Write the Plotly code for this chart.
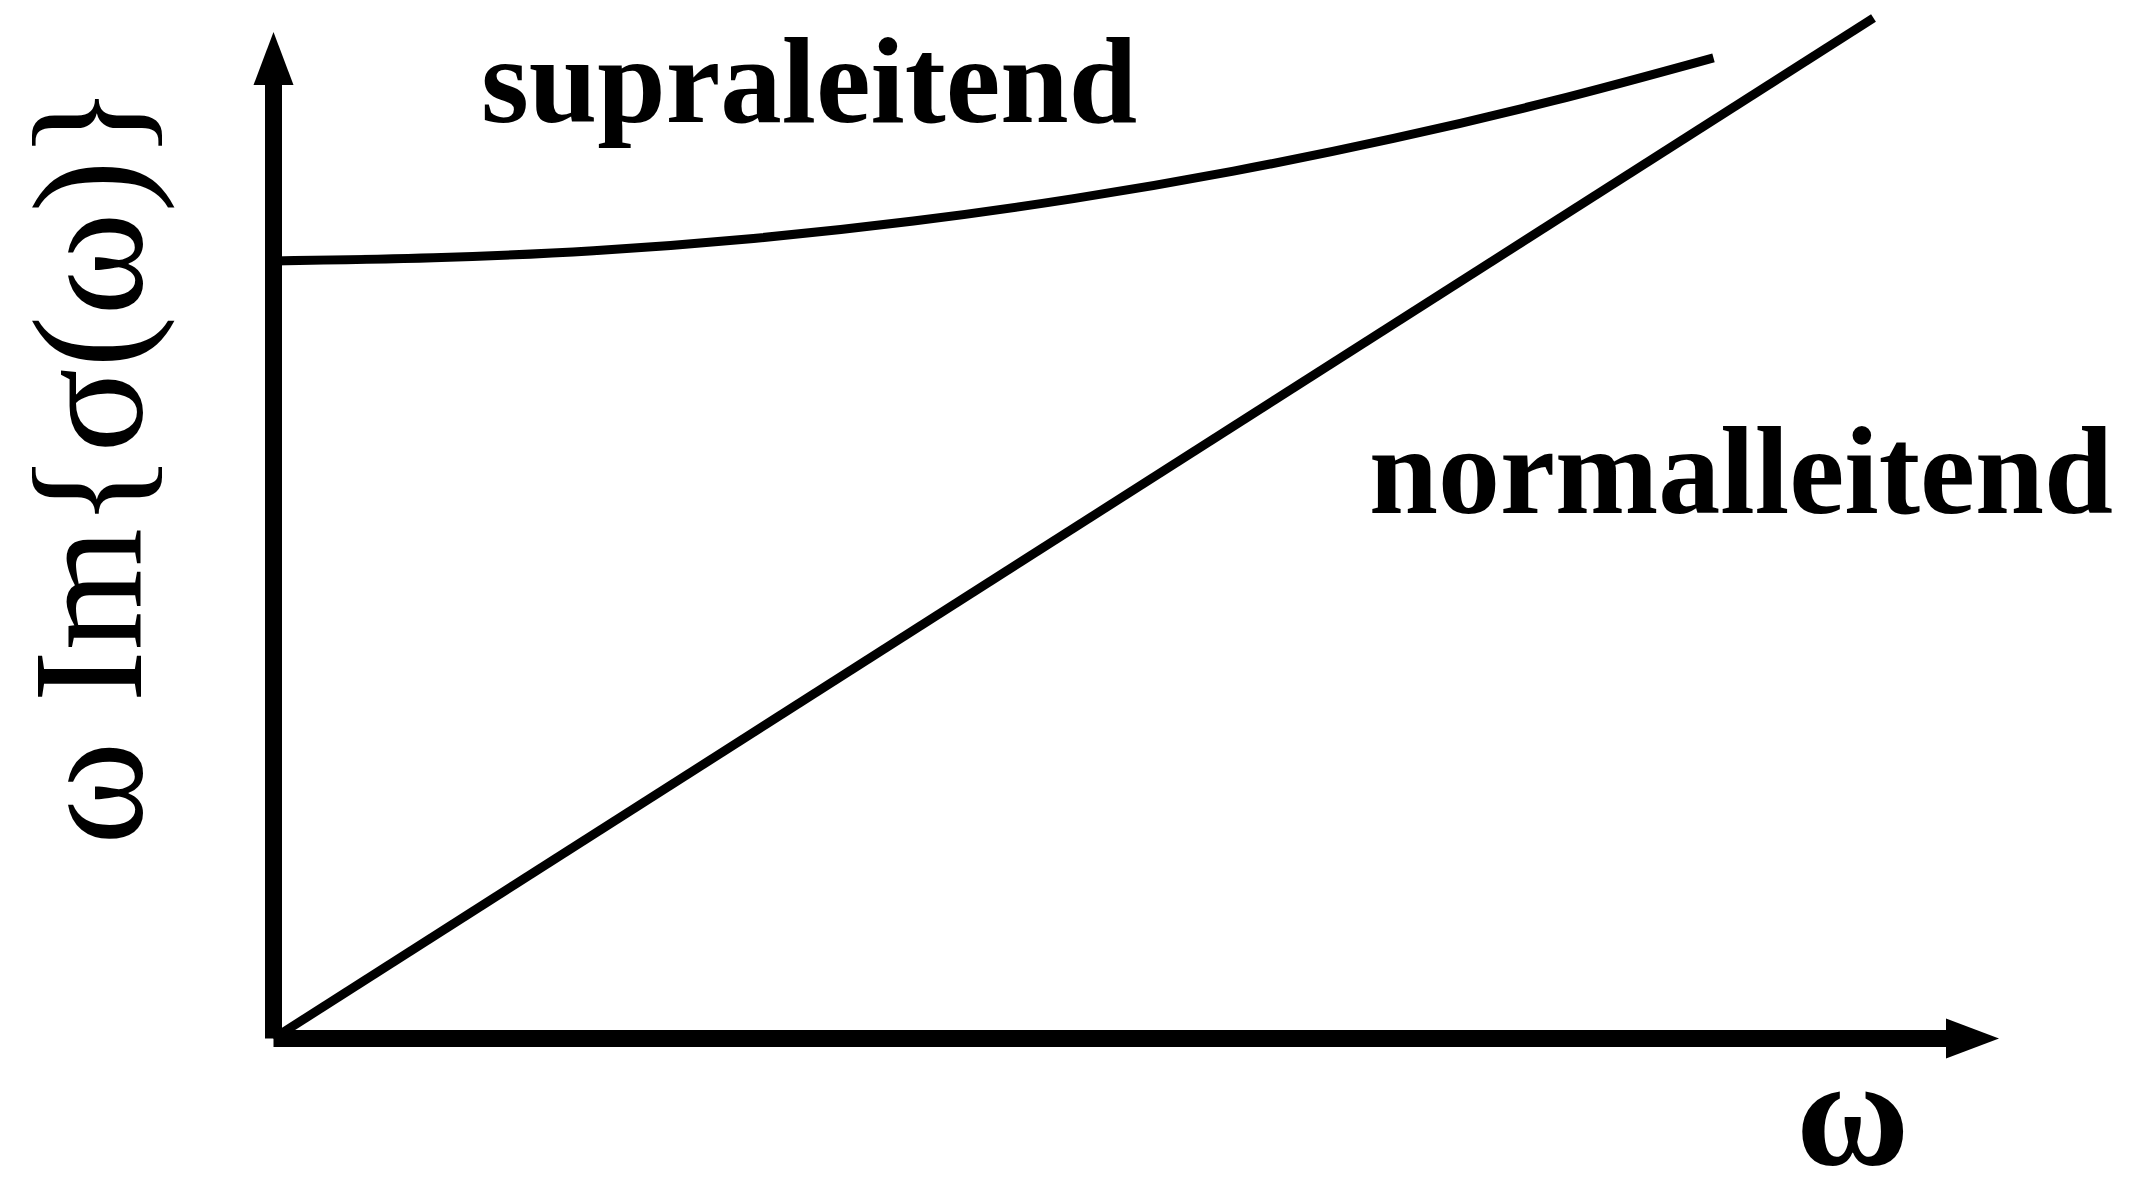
import plotly.graph_objects as go

# Frequency axis (arbitrary units) and Im-part response of both states
omega_normal = [0.0, 10.0]
im_normal = [0.0, 10.0]

omega_supra = [0, 1, 2, 3, 4, 5, 6, 7, 8, 9]
im_supra = [7.62, 7.65, 7.72, 7.84, 8.01, 8.23, 8.50, 8.82, 9.19, 9.61]

label_supra = "supraleitend"
label_normal = "normalleitend"
label_x = "ω"
label_y = "ω Im{σ(ω)}"

# Canvas geometry
W, H = 2130, 1198
ORIGIN_PX = (273.5, 1038.5)      # where the two axes meet
PX_PER_X = 160.0
PX_PER_Y = 102.05
x_range = [-ORIGIN_PX[0] / PX_PER_X, (W - ORIGIN_PX[0]) / PX_PER_X]
y_range = [-(H - ORIGIN_PX[1]) / PX_PER_Y, ORIGIN_PX[1] / PX_PER_Y]

# Axis arrows (tips in data units), head size in pixels
X_TIP = (1999 - ORIGIN_PX[0]) / PX_PER_X
Y_TIP = (ORIGIN_PX[1] - 32) / PX_PER_Y
HEAD_LEN, HEAD_HALF = 53, 20
AXIS_W = 17
CURVE_W = 9

FONT = "Liberation Serif, Times New Roman, serif"

fig = go.Figure()
fig.add_trace(go.Scatter(x=omega_normal, y=im_normal, mode="lines",
                         line=dict(color="black", width=CURVE_W),
                         hoverinfo="skip", showlegend=False))
fig.add_trace(go.Scatter(x=omega_supra, y=im_supra, mode="lines",
                         line=dict(color="black", width=CURVE_W, shape="spline", smoothing=1.0),
                         hoverinfo="skip", showlegend=False))

shapes = [
    # vertical axis shaft
    dict(type="line", xref="x", yref="y", x0=0, x1=0, y0=0,
         y1=Y_TIP - (HEAD_LEN - 2) / PX_PER_Y,
         line=dict(color="black", width=AXIS_W)),
    # horizontal axis shaft
    dict(type="line", xref="x", yref="y", y0=0, y1=0, x0=0,
         x1=X_TIP - (HEAD_LEN - 2) / PX_PER_X,
         line=dict(color="black", width=AXIS_W)),
    # arrow heads
    dict(type="path", xref="x", yref="y", xsizemode="pixel", ysizemode="pixel",
         xanchor=0, yanchor=Y_TIP,
         path=f"M0,0 L{-HEAD_HALF},{-HEAD_LEN} L{HEAD_HALF},{-HEAD_LEN} Z",
         fillcolor="black", line=dict(width=0)),
    dict(type="path", xref="x", yref="y", xsizemode="pixel", ysizemode="pixel",
         xanchor=X_TIP, yanchor=0,
         path=f"M0,0 L{-HEAD_LEN},{HEAD_HALF} L{-HEAD_LEN},{-HEAD_HALF} Z",
         fillcolor="black", line=dict(width=0)),
]


def px(x, y):
    return x / W, 1 - y / H


annotations = []
for text, (cx, cy), size, bold, angle in [
    (label_supra, (809, 81), 123, True, 0),
    (label_normal, (1741, 471), 124, True, 0),
    (label_x, (1852, 1112), 155, True, 0),
    (label_y, (88, 465), 157, False, -90),
]:
    ax, ay = px(cx, cy)
    annotations.append(dict(
        text=f"<b>{text}</b>" if bold else text,
        xref="paper", yref="paper", x=ax, y=ay,
        xanchor="center", yanchor="middle", showarrow=False,
        textangle=angle,
        font=dict(family=FONT, size=size, color="black"),
    ))

fig.update_layout(
    width=W, height=H,
    margin=dict(l=0, r=0, t=0, b=0),
    paper_bgcolor="white", plot_bgcolor="white",
    xaxis=dict(range=x_range, visible=False, fixedrange=True),
    yaxis=dict(range=y_range, visible=False, fixedrange=True),
    shapes=shapes, annotations=annotations,
    showlegend=False,
)

fig.write_html("out.html", config={"displayModeBar": False})
